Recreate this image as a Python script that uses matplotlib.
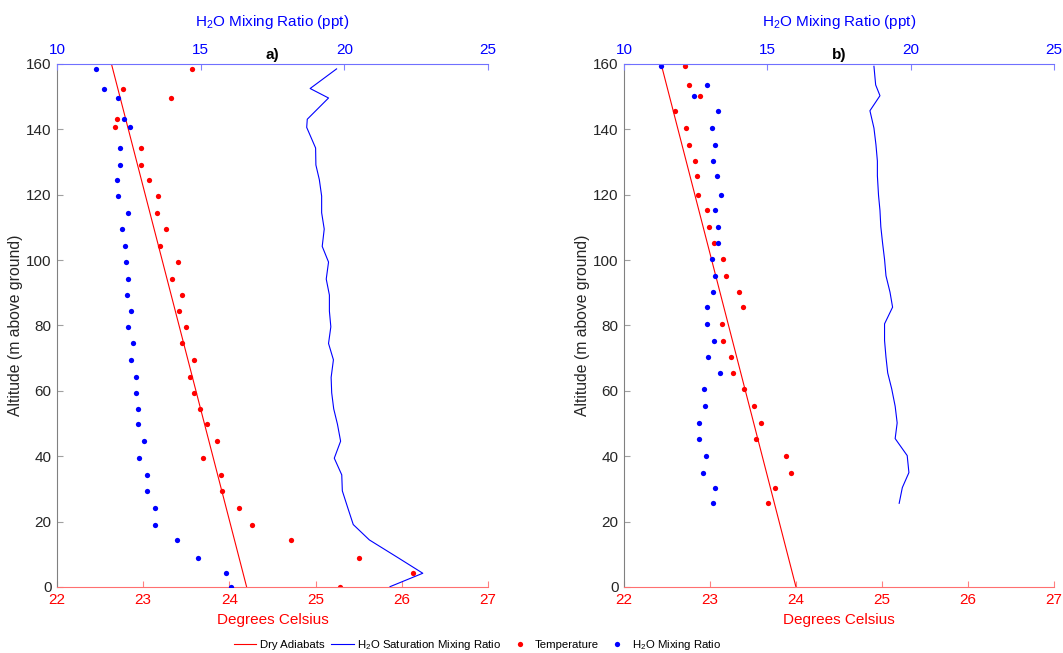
import matplotlib
matplotlib.use("Agg")
import matplotlib.pyplot as plt
from matplotlib.lines import Line2D

plt.rcParams["font.family"] = ["Liberation Sans", "DejaVu Sans"]
plt.rcParams["mathtext.fontset"] = "custom"
plt.rcParams["mathtext.rm"] = "Liberation Sans"
plt.rcParams["mathtext.it"] = "Liberation Sans:italic"

# profile a)
alt_a = [158.5, 152.5, 149.6, 143.1, 140.6, 134.3, 129.1, 124.6, 119.6, 114.5, 109.5,
         104.2, 99.4, 94.2, 89.3, 84.4, 79.6, 74.5, 69.5, 64.1, 59.4, 54.5, 49.8,
         44.6, 39.4, 34.3, 29.4, 24.2, 19.1, 14.4, 9.0, 4.2, 0.1]
temp_a = [23.57, 22.77, 23.32, 22.70, 22.67, 22.97, 22.97, 23.07, 23.17, 23.16, 23.27,
          23.20, 23.40, 23.34, 23.45, 23.42, 23.50, 23.45, 23.59, 23.54, 23.59, 23.66,
          23.74, 23.86, 23.69, 23.90, 23.91, 24.11, 24.26, 24.72, 25.50, 26.13, 25.28]
mix_a = [11.35, 11.65, 12.13, 12.34, 12.54, 12.19, 12.19, 12.09, 12.12, 12.48, 12.27,
         12.38, 12.39, 12.47, 12.44, 12.56, 12.46, 12.63, 12.56, 12.75, 12.75, 12.83,
         12.82, 13.04, 12.85, 13.14, 13.12, 13.42, 13.42, 14.17, 14.90, 15.87, 16.05]
sat_a = [19.73, 18.81, 19.45, 18.71, 18.69, 19.00, 19.01, 19.13, 19.21, 19.21, 19.30,
         19.23, 19.45, 19.37, 19.48, 19.48, 19.53, 19.45, 19.62, 19.54, 19.56, 19.63,
         19.76, 19.87, 19.65, 19.91, 19.93, 20.12, 20.31, 20.87, 21.86, 22.73, 21.59]
surface_a = 24.2

# profile b)
alt_b = [159.3, 153.6, 150.3, 145.7, 140.4, 135.3, 130.3, 125.8, 119.8, 115.2, 110.2,
         105.3, 100.2, 95.2, 90.2, 85.6, 80.5, 75.4, 70.3, 65.5, 60.6, 55.3, 50.2,
         45.4, 40.2, 35.0, 30.4, 25.6]
temp_b = [22.71, 22.76, 22.88, 22.59, 22.72, 22.76, 22.83, 22.85, 22.86, 22.96, 22.99,
          23.05, 23.15, 23.19, 23.34, 23.38, 23.14, 23.15, 23.24, 23.27, 23.40, 23.51,
          23.59, 23.53, 23.88, 23.94, 23.76, 23.67]
mix_b = [11.29, 12.88, 12.44, 13.28, 13.06, 13.16, 13.10, 13.24, 13.39, 13.17, 13.29,
         13.28, 13.08, 13.18, 13.11, 12.91, 12.90, 13.13, 12.92, 13.34, 12.80, 12.83,
         12.63, 12.61, 12.86, 12.76, 13.17, 13.10]
sat_b = [18.72, 18.78, 18.93, 18.58, 18.72, 18.79, 18.84, 18.84, 18.88, 18.93, 18.96,
         19.02, 19.09, 19.14, 19.28, 19.37, 19.09, 19.09, 19.14, 19.20, 19.34, 19.46,
         19.53, 19.46, 19.88, 19.94, 19.71, 19.60]
surface_b = 24.0

lapse = 0.0098  # dry adiabatic lapse rate, degC per m
adiabat_alt = [0, 160]

RED = "#ff0000"
BLUE = "#0000ff"


def draw_panel(fig, rect, alt, temp, mix, sat, surface, tag):
    ax = fig.add_axes(rect)
    ax2 = ax.twiny()

    dry = [surface - lapse * h for h in adiabat_alt]
    ax.plot(dry, adiabat_alt, color=RED, lw=0.8)
    ax.plot(temp, alt, "o", color=RED, ms=3.8, mec="none")
    ax2.plot(sat, alt, color=BLUE, lw=0.8)
    ax2.plot(mix, alt, "o", color=BLUE, ms=3.8, mec="none")

    ax.set_xlim(22, 27)
    ax.set_xticks([22, 23, 24, 25, 26, 27])
    ax2.set_xlim(10, 25)
    ax2.set_xticks([10, 15, 20, 25])
    ax.set_ylim(0, 160)
    ax.set_yticks(range(0, 161, 20))

    for a in (ax, ax2):
        a.spines["right"].set_visible(False)
    ax.spines["top"].set_visible(False)
    ax2.spines["bottom"].set_visible(False)
    ax2.spines["left"].set_visible(False)
    ax.spines["bottom"].set_color("#ff7070")
    ax2.spines["top"].set_color("#7070ff")
    ax.spines["left"].set_color("#808080")

    ax.tick_params(axis="x", direction="in", colors="#ff8080", labelcolor=RED,
                   labelsize=11, length=4, pad=4)
    ax.tick_params(axis="y", direction="in", colors="#a0a0a0", labelcolor="#262626",
                   labelsize=11, length=4, pad=4)
    ax2.tick_params(axis="x", direction="in", colors="#8080ff", labelcolor=BLUE,
                    labelsize=11, length=4, pad=5)

    ax.set_xlabel("Degrees Celsius", color=RED, fontsize=11, labelpad=5)
    ax2.set_xlabel("H$_2$O Mixing Ratio (ppt)", color=BLUE, fontsize=11, labelpad=12)
    ax.set_ylabel("Altitude (m above ground)", color="#262626", fontsize=11.3, labelpad=2)
    ax.text(0.5, 1.003, tag, transform=ax.transAxes, ha="center", va="bottom",
            fontsize=11, fontweight="bold")
    return ax


fig = plt.figure(figsize=(10.63, 6.53), dpi=100)
draw_panel(fig, [0.0536, 0.1011, 0.4055, 0.8009], alt_a, temp_a, mix_a, sat_a,
           surface_a, "a)")
draw_panel(fig, [0.587, 0.1011, 0.4045, 0.8009], alt_b, temp_b, mix_b, sat_b,
           surface_b, "b)")

handles = [
    Line2D([], [], color=RED, lw=0.8),
    Line2D([], [], color=BLUE, lw=0.8),
    Line2D([], [], ls="none", marker="o", color=RED, ms=3.8, mec="none"),
    Line2D([], [], ls="none", marker="o", color=BLUE, ms=3.8, mec="none"),
]
labels = ["Dry Adiabats", "H$_2$O Saturation Mixing Ratio", "Temperature", "H$_2$O Mixing Ratio"]
fig.legend(handles, labels, loc="lower center", bbox_to_anchor=(0.449, -0.014), ncol=4,
           frameon=False, fontsize=8.2, handlelength=2.0, handletextpad=0.3,
           columnspacing=0.6, numpoints=1)

fig.savefig("out.png", dpi=100)
